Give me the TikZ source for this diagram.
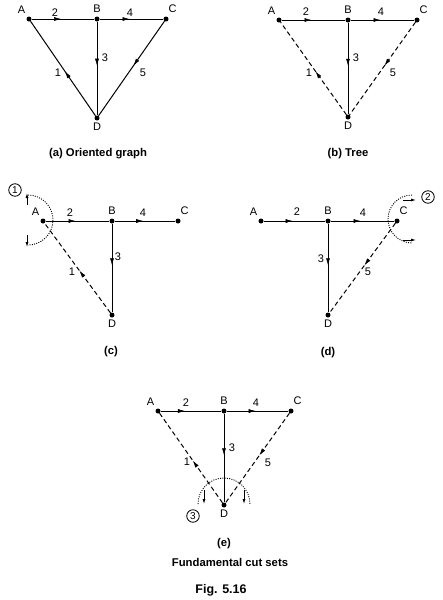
\documentclass[tikz,border=0pt]{standalone}
\usepackage{fontspec}
\setmainfont{Liberation Sans}
\usetikzlibrary{arrows.meta,decorations.markings}
\newcommand\trinodes[6]{% prefix, Ax, Bx, Cx, ytop, yD
  \node[gdot] (#1A) at (#2,#5) {};
  \node[gdot] (#1B) at (#3,#5) {};
  \node[gdot] (#1C) at (#4,#5) {};
  \node[gdot] (#1D) at (#3,#6) {};
  \node[lbl] (#1lA) at ([shift={(-7.5,-9.5)}]#1A) {A};
  \node[lbl] (#1lB) at ([shift={(0,-10)}]#1B) {B};
  \node[lbl] (#1lC) at ([shift={(6.5,-10)}]#1C) {C};
  \node[lbl] (#1lD) at ([shift={(0,9)}]#1D) {D};
}
\begin{document}
\begin{tikzpicture}[x=1pt,y=-1pt,
  gdot/.style={circle,fill=black,inner sep=0pt,minimum size=5pt},
  lbl/.style={font=\fontsize{11}{12}\selectfont,inner sep=0pt},
  capt/.style={font=\fontsize{11.3}{14}\selectfont\bfseries,inner sep=0pt},
  tre/.style={line width=1pt},
  chd/.style={line width=1pt,dash pattern=on 4.5pt off 3pt},
  midarr/.style={postaction={decorate},decoration={markings,mark=at position #1 with {\arrow[solid,line width=0.6pt]{Latex[length=7pt,width=4pt]}}}},
  midarr/.default=0.47,
  cutarc/.style={line width=0.9pt,dash pattern=on 1pt off 1.3pt},
  cutarr/.style={line width=0.8pt,-{Latex[length=5pt,width=3pt]}},
  num/.style={circle,draw,line width=0.8pt,inner sep=0pt,minimum size=12.5pt,font=\fontsize{10}{10}\selectfont}
]
\useasboundingbox (0,0) rectangle (443,600);

% ---------- (a) Oriented graph ----------
\trinodes{a}{29}{97}{166}{19}{118}
\draw[tre,midarr] (aA) -- (aB);
\draw[tre,midarr] (aB) -- (aC);
\draw[tre,midarr] (aB) -- (aD);
\draw[tre,midarr] (aD) -- (aA);
\draw[tre,midarr] (aC) -- (aD);
\node[lbl] (a2) at (55,13) {2};
\node[lbl] (a4) at (130,13) {4};
\node[lbl] (a3) at (105,58) {3};
\node[lbl] (a1) at (58,73) {1};
\node[lbl] (a5) at (143,73) {5};
\node[capt] (acap) at (98,154) {(a) Oriented graph};

% ---------- (b) Tree ----------
\trinodes{b}{279}{348}{417}{20}{117}
\draw[tre,midarr] (bA) -- (bB);
\draw[tre,midarr] (bB) -- (bC);
\draw[tre,midarr] (bB) -- (bD);
\draw[chd,midarr] (bD) -- (bA);
\draw[chd,midarr] (bC) -- (bD);
\node[lbl] (b2) at (306,12) {2};
\node[lbl] (b4) at (381,12) {4};
\node[lbl] (b3) at (356,58) {3};
\node[lbl] (b1) at (309,73) {1};
\node[lbl] (b5) at (393,73) {5};
\node[capt] (bcap) at (348,154) {(b) Tree};

% ---------- (c) ----------
\trinodes{c}{43}{112}{178}{221}{315}
\draw[tre,midarr] (cA) -- (cB);
\draw[tre,midarr] (cB) -- (cC);
\draw[tre,midarr] (cB) -- (cD);
\draw[chd,midarr] (cD) -- (cA);
\node[lbl] (c2) at (70,213) {2};
\node[lbl] (c4) at (143,213) {4};
\node[lbl] (c3) at (118,257) {3};
\node[lbl] (c1) at (72,272) {1};
\draw[cutarc] (28,195) arc[start angle=-90,end angle=90,radius=25];
\draw[cutarr] (27,205) -- (27,193);
\draw[cutarr] (27,235) -- (27,247);
\node[num] (n1) at (15,190) {1};
\node[capt] (ccap) at (111,352) {(c)};

% ---------- (d) ----------
\trinodes{d}{261}{328}{397}{221}{315}
\draw[tre,midarr] (dA) -- (dB);
\draw[tre,midarr] (dB) -- (dC);
\draw[tre,midarr] (dB) -- (dD);
\draw[chd,midarr] (dC) -- (dD);
\node[lbl] (d2) at (297,212) {2};
\node[lbl] (d4) at (363,213) {4};
\node[lbl] (d3) at (321,259) {3};
\node[lbl] (d5) at (368,272) {5};
\draw[cutarc] (412,195) arc[start angle=-90,end angle=-270,radius=24];
\draw[cutarr] (403,200) -- (416,200);
\draw[cutarr] (403,240) -- (416,240);
\node[num] (n2) at (428,197) {2};
\node[capt] (dcap) at (328,353) {(d)};

% ---------- (e) ----------
\trinodes{e}{158}{224}{291}{411}{505}
\draw[tre,midarr=0.4] (eA) -- (eB);
\draw[tre,midarr] (eB) -- (eC);
\draw[tre,midarr] (eB) -- (eD);
\draw[chd,midarr] (eD) -- (eA);
\draw[chd,midarr] (eC) -- (eD);
\node[lbl] (e2) at (186,403) {2};
\node[lbl] (e4) at (256,403) {4};
\node[lbl] (e3) at (232,448) {3};
\node[lbl] (e1) at (187,462) {1};
\node[lbl] (e5) at (268,463) {5};
\draw[cutarc] (198,504) arc[start angle=180,end angle=360,radius=26];
\draw[cutarr] (204,490) -- (204,504);
\draw[cutarr] (244,490) -- (244,504);
\node[num] (n3) at (193,516) {3};
\node[capt] (ecap) at (224,544) {(e)};
\node[capt] (fcs) at (230,562) {Fundamental cut sets};
\node[capt,font=\fontsize{12.5}{15}\selectfont\bfseries] (fig) at (221,590) {Fig. 5.16};
\end{tikzpicture}
\end{document}
